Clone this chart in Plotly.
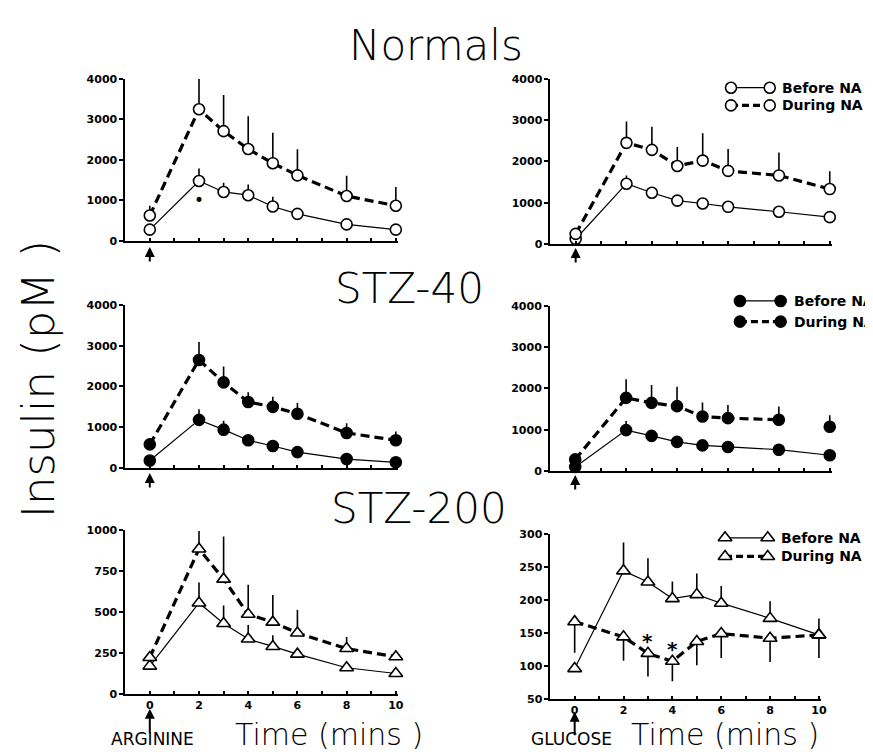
import plotly.graph_objects as go

W, H = 873, 752

# ---------------- data ----------------
t = [0, 2, 3, 4, 5, 6, 8, 10]

norm_arg_before = [280, 1480, 1210, 1130, 850, 670, 410, 280]
norm_arg_before_err = [0, 310, 225, 265, 240, 0, 0, 0]
norm_arg_during = [630, 3250, 2710, 2270, 1920, 1620, 1110, 870]
norm_arg_during_err = [240, 750, 890, 810, 750, 645, 500, 460]

norm_glu_before = [120, 1460, 1240, 1050, 980, 900, 780, 650]
norm_glu_before_err = [0, 200, 0, 0, 0, 0, 0, 0]
norm_glu_during = [245, 2450, 2280, 1890, 2020, 1770, 1660, 1330]
norm_glu_during_err = [0, 515, 560, 460, 665, 530, 555, 430]

stz40_arg_before = [185, 1180, 940, 680, 540, 390, 220, 140]
stz40_arg_before_err = [0, 260, 220, 0, 0, 0, 0, 0]
stz40_arg_during = [580, 2650, 2100, 1620, 1500, 1330, 860, 680]
stz40_arg_during_err = [0, 440, 390, 240, 250, 265, 240, 215]

stz40_glu_before = [95, 990, 850, 705, 620, 580, 515, 380]
stz40_glu_before_err = [0, 220, 0, 0, 0, 0, 0, 0]
stz40_glu_during = [280, 1770, 1650, 1570, 1320, 1280, 1240, 1070]
stz40_glu_during_err = [0, 450, 430, 470, 340, 320, 320, 280]

stz200_arg_before = [170, 555, 430, 335, 290, 243, 160, 125]
stz200_arg_before_err = [0, 125, 110, 85, 68, 0, 0, 0]
stz200_arg_during = [223, 884, 700, 486, 438, 372, 277, 227]
stz200_arg_during_err = [0, 110, 260, 180, 165, 140, 70, 0]

stz200_glu_before = [96, 244, 227, 202, 208, 195, 172, 147]
stz200_glu_before_err = [0, 43, 36, 26, 32, 26, 26, 25]
stz200_glu_during = [167, 144, 119, 107, 137, 149, 142, 147]
stz200_glu_during_err_down = [47, 36, 35, 30, 36, 37, 36, 35]

y_ticks_big = [0, 1000, 2000, 3000, 4000]
y_ticks_arg200 = [0, 250, 500, 750, 1000]
y_ticks_glu200 = [50, 100, 150, 200, 250, 300]
x_ticks = list(range(0, 11))
x_ticklabels = [str(v) if v % 2 == 0 else "" for v in x_ticks]

# ---------------- layout helpers ----------------
def px(x):
    return x / W

def py(y):
    return 1 - y / H

TICKFONT = dict(family="DejaVu Sans", size=11, color="black", weight="bold")
THIN = dict(family="DejaVu Sans", color="black", weight=200)

fig = go.Figure()

# panels: x pixel domain, y pixel domain, y range, y ticks, show x labels
panels = {
    1: ((118, 393), (66, 231), [0, 4000], y_ticks_big, False),
    2: ((546, 830), (66, 234), [0, 4000], y_ticks_big, False),
    3: ((118, 393), (296, 462), [0, 4000], y_ticks_big, False),
    4: ((545.5, 830), (297, 465), [0, 4000], y_ticks_big, False),
    5: ((118, 393), (525, 692), [0, 1000], y_ticks_arg200, True),
    6: ((546, 819), (529, 697), [50, 300], y_ticks_glu200, True),
}

layout_axes = {}
for i, (xd, yd, yr, yt, showx) in panels.items():
    xn = "xaxis" if i == 1 else f"xaxis{i}"
    yn = "yaxis" if i == 1 else f"yaxis{i}"
    layout_axes[xn] = dict(
        domain=[px(xd[0]), px(xd[1])], range=[-1, 10.1], anchor=f"y{'' if i == 1 else i}",
        showline=True, linecolor="black", linewidth=1.5, showgrid=False, zeroline=False,
        ticks="inside", ticklen=3, tickcolor="black", tickwidth=1.5,
        tickvals=x_ticks, ticktext=x_ticklabels, showticklabels=showx,
        tickfont=TICKFONT,
    )
    layout_axes[yn] = dict(
        domain=[py(yd[1]), py(yd[0])], range=yr, anchor=f"x{'' if i == 1 else i}",
        showline=True, linecolor="black", linewidth=1.5, showgrid=False, zeroline=False,
        ticks="outside", ticklen=4, tickcolor="black", tickwidth=1.5,
        tickvals=yt, tickfont=TICKFONT,
    )

# overlay axis in pixel units for the legend glyphs
layout_axes["xaxis7"] = dict(domain=[0, 1], range=[0, W], visible=False, anchor="y7", fixedrange=True)
layout_axes["yaxis7"] = dict(domain=[0, 1], range=[H, 0], visible=False, anchor="x7", fixedrange=True)


def marker_style(symbol, filled):
    size = 11 if symbol == "circle" else 12
    return dict(symbol=symbol, size=size,
                color="black" if filled else "white",
                line=dict(color="black", width=1.6))


def add_series(i, y, err_plus=None, err_minus=None, kind="before", symbol="circle",
               filled=False, n_line=None):
    xa = "x" if i == 1 else f"x{i}"
    ya = "y" if i == 1 else f"y{i}"
    if kind == "before":
        line = dict(color="black", width=1.2)
    else:
        line = dict(color="black", width=3.2, dash="9px,5px")
    marker = marker_style(symbol, filled)
    ey = None
    if err_plus is not None or err_minus is not None:
        ey = dict(type="data", symmetric=False,
                  array=err_plus if err_plus is not None else [0] * len(y),
                  arrayminus=err_minus if err_minus is not None else [0] * len(y),
                  color="black", thickness=1.6, width=0)
    if n_line is None:
        fig.add_trace(go.Scatter(x=t, y=y, mode="lines+markers", line=line, marker=marker,
                                 error_y=ey, xaxis=xa, yaxis=ya, showlegend=False, cliponaxis=False))
    else:
        fig.add_trace(go.Scatter(x=t[:n_line], y=y[:n_line], mode="lines", line=line,
                                 xaxis=xa, yaxis=ya, showlegend=False, cliponaxis=False))
        fig.add_trace(go.Scatter(x=t, y=y, mode="markers", marker=marker,
                                 error_y=ey, xaxis=xa, yaxis=ya, showlegend=False, cliponaxis=False))


add_series(1, norm_arg_before, norm_arg_before_err, kind="before")
add_series(1, norm_arg_during, norm_arg_during_err, kind="during")
add_series(2, norm_glu_before, norm_glu_before_err, kind="before")
add_series(2, norm_glu_during, norm_glu_during_err, kind="during")
add_series(3, stz40_arg_before, stz40_arg_before_err, kind="before", filled=True)
add_series(3, stz40_arg_during, stz40_arg_during_err, kind="during", filled=True)
add_series(4, stz40_glu_before, stz40_glu_before_err, kind="before", filled=True)
add_series(4, stz40_glu_during, stz40_glu_during_err, kind="during", filled=True, n_line=7)
add_series(5, stz200_arg_before, stz200_arg_before_err, kind="before", symbol="triangle-up")
add_series(5, stz200_arg_during, stz200_arg_during_err, kind="during", symbol="triangle-up")
add_series(6, stz200_glu_before, stz200_glu_before_err, kind="before", symbol="triangle-up")
add_series(6, stz200_glu_during, None, stz200_glu_during_err_down, kind="during", symbol="triangle-up")

# ---------------- legends ----------------
legends = [
    # (row y pixels, glyph x1, glyph x2, text x, symbol, filled)
    ((75, 93), 728, 767, 777, "circle", False),
    ((292, 313), 737, 778, 789, "circle", True),
    ((533, 552), 722, 765, 776, "triangle-up", False),
]
annotations = []
for rows, gx1, gx2, tx, sym, filled in legends:
    for k, (ry, label) in enumerate(zip(rows, ["Before NA", "During NA"])):
        if k == 0:
            line = dict(color="black", width=1.2)
        else:
            line = dict(color="black", width=3.2, dash="7px,4px")
        fig.add_trace(go.Scatter(
            x=[gx1, gx2], y=[ry, ry], mode="lines+markers", line=line,
            marker=marker_style(sym, filled),
            xaxis="x7", yaxis="y7", showlegend=False, hoverinfo="skip", cliponaxis=False))
        annotations.append(dict(
            text=label, x=px(tx), y=py(ry), xref="paper", yref="paper",
            xanchor="left", yanchor="middle", showarrow=False,
            font=dict(family="DejaVu Sans", size=14, color="black", weight="bold")))

# ---------------- titles and labels ----------------
def text_ann(text, x, y, size, angle=0, font=None):
    f = dict(font or THIN)
    f["size"] = size
    return dict(text=text, x=px(x), y=py(y), xref="paper", yref="paper",
                xanchor="center", yanchor="middle", showarrow=False, textangle=angle, font=f)

annotations += [
    text_ann("Normals", 431, 32, 42),
    text_ann("STZ-40", 404, 279, 42),
    text_ann("STZ-200", 414, 503, 42),
    text_ann("Insulin (pM )", 31, 372, 45, angle=-90),
    text_ann("Time (mins )", 323, 733, 30),
    text_ann("Time (mins )", 722, 733, 30),
    text_ann("ARGININE", 145, 738, 17, font=dict(family="DejaVu Sans", color="black")),
    text_ann("GLUCOSE", 567, 738, 17, font=dict(family="DejaVu Sans", color="black")),
]

# arrows marking the stimulus at time 0
for xa, head, tail in [("x", 237, 253), ("x2", 238, 254), ("x3", 467, 483),
                       ("x4", 469, 485), ("x5", 707, 733), ("x6", 710, 735)]:
    annotations.append(dict(
        text="", x=0, y=py(head), xref=xa, yref="paper", ax=0, ay=tail - head,
        axref="pixel", ayref="pixel", showarrow=True, arrowhead=2, arrowsize=1,
        arrowwidth=2, arrowcolor="black"))

# significance marks
annotations += [
    dict(text="•", x=2, y=1000, xref="x", yref="y", showarrow=False,
         font=dict(family="DejaVu Sans", size=17, color="black")),
    dict(text="*", x=3, y=137, xref="x6", yref="y6", showarrow=False,
         font=dict(family="DejaVu Sans", size=20, color="black", weight="bold")),
    dict(text="*", x=4, y=125, xref="x6", yref="y6", showarrow=False,
         font=dict(family="DejaVu Sans", size=20, color="black", weight="bold")),
]

fig.update_layout(
    width=W, height=H, margin=dict(l=0, r=0, t=0, b=0),
    paper_bgcolor="white", plot_bgcolor="rgba(0,0,0,0)",
    annotations=annotations, showlegend=False,
    **layout_axes,
)

fig.write_html("out.html")
